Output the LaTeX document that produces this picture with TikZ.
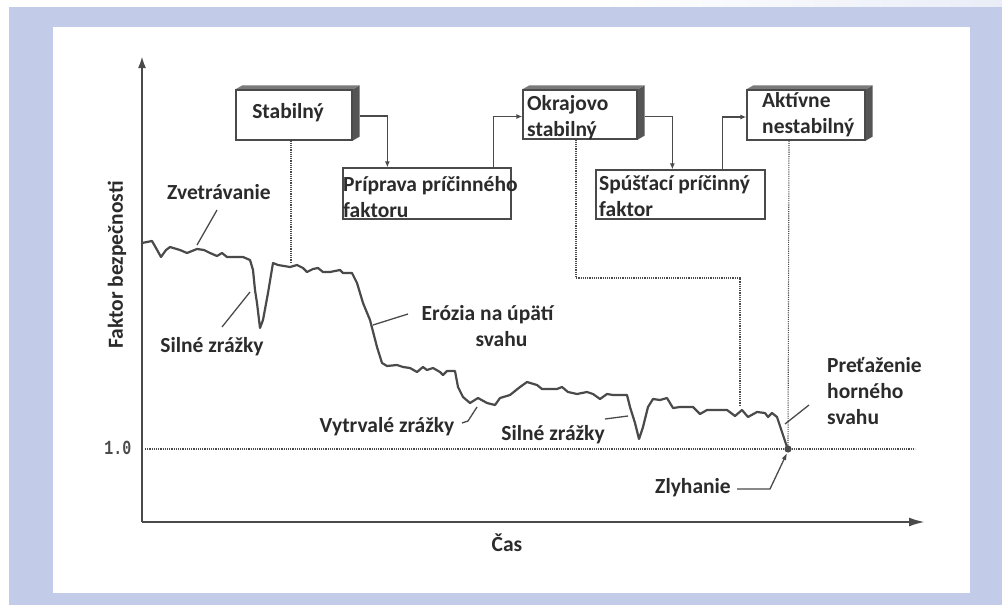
\documentclass[tikz,border=0pt]{standalone}
\usepackage{fontspec}
\setmainfont{Carlito}
\newfontfamily\monof{Liberation Mono}
\usetikzlibrary{arrows.meta,calc}
\definecolor{bgblue}{HTML}{C2CCE8}
\definecolor{ln}{HTML}{4A4A4A}
\definecolor{txt}{HTML}{2B2B2B}
\definecolor{sidec}{HTML}{555555}
\definecolor{topc}{HTML}{7A7A7A}
\begin{document}
\begin{tikzpicture}[x=1pt,y=-1pt,
  lbl/.style={font=\bfseries\fontsize{21.5}{26}\selectfont, text=txt, inner sep=0pt},
  boxn/.style={draw=ln, line width=1.3pt, fill=white, rectangle, inner sep=0pt},
  conn/.style={draw=ln, line width=1.3pt, -{Latex[length=6pt,width=5pt]}},
  dots/.style={draw=ln, line width=1.1pt, dash pattern=on 1.1pt off 1.1pt},
  lead/.style={draw=ln, line width=1.3pt},
  curvest/.style={draw=ln, line width=2.2pt, line join=round, line cap=round},
  axis/.style={draw=ln, line width=2.2pt}]
\useasboundingbox (0,0) rectangle (1002,605);
\fill[white] (0,0) rectangle (1002,605);
\shade[left color=white, right color=bgblue!35] (600,0) rectangle (1002,7);
\fill[bgblue] (9,7) rectangle (1002,605);
\fill[white] (53,27) rectangle (970,593);

% axes
\coordinate (O) at (142,522);
\coordinate (ytip) at (142,56);
\coordinate (xtip) at (925,522);
\draw[axis, -{Latex[length=12pt,width=8pt]}] (O) -- (ytip);
\draw[axis, -{Latex[length=16pt,width=9pt]}] (O) -- (xtip);
\node[lbl, rotate=90] (lyax) at (117,265) {Faktor bezpečnosti};
\node[lbl] (lcas) at (507,543) {Čas};
\node[font=\monof\bfseries\fontsize{20}{20}\selectfont, text=txt!85, inner sep=0pt] (lone) at (118,448) {\scalebox{0.75}[1]{1.0}};
\coordinate (one0) at (145,449);
\coordinate (one1) at (915,449);
\draw[dots] (one0) -- (one1);

% boxes
\node[boxn, minimum width=116pt, minimum height=50pt] (stab) at (294,115) {};
\node[boxn, minimum width=114pt, minimum height=49pt] (okr) at (580,114.5) {};
\node[boxn, minimum width=118pt, minimum height=50pt] (akt) at (806,115) {};
\node[boxn, minimum width=168pt, minimum height=51pt] (prip) at (427,193.5) {};
\node[boxn, minimum width=169pt, minimum height=49pt] (spus) at (680.5,194.5) {};
\foreach \b in {stab,okr,akt}{
  \fill[sidec] (\b.north east) -- ++(7,-4) -- ([shift={(7,-4)}]\b.south east) -- (\b.south east) -- cycle;
  \fill[topc] (\b.north west) -- ++(7,-4) -- ([shift={(7,-4)}]\b.north east) -- (\b.north east) -- cycle;
  \draw[ln, line width=1.3pt] (\b.north west) rectangle (\b.south east);
}
\node[lbl] (tstab) at (288,113) {Stabilný};
\node[lbl, anchor=west, align=left] (tokr) at (527,118) {Okrajovo\\stabilný};
\node[lbl, anchor=west, align=left] (takt) at (762,115) {Aktívne\\nestabilný};
\node[lbl, anchor=west, align=left] (tprip) at (343,197) {Príprava príčinného\\faktoru};
\node[lbl, anchor=west, align=left] (tspus) at (599,196) {Spúšťací príčinný\\faktor};

% connectors
\draw[conn] ([xshift=7pt,yshift=-1pt]stab.east) -| ([xshift=45pt]prip.north west);
\draw[conn] ([xshift=-18pt]prip.north east) |- ([yshift=-2pt]okr.west);
\draw[conn] ([xshift=7pt,yshift=-2pt]okr.east) -| ([xshift=77pt]spus.north west);
\draw[conn] ([xshift=127pt]spus.north west) |- ([yshift=-2pt]akt.west);

% curve
\draw[curvest] (142,243) -- (152,241) -- (156,248) -- (161,257) -- (166,250) -- (170,247) -- (180,250) -- (187,253) -- (197,249) -- (204,250) -- (210,253) -- (217,256) -- (222,253) -- (227,257) -- (243,257) -- (250,260) -- (253,270) -- (255,290) -- (257,303) -- (260,328) -- (263,320) -- (268,293) -- (273,263) -- (278,265) -- (290,267) -- (297,265) -- (303,268) -- (307,272) -- (313,269) -- (318,268) -- (323,272) -- (330,272) -- (340,270) -- (343,273) -- (352,273) -- (357,283) -- (363,303) -- (370,320) -- (377,347) -- (382,363) -- (387,366) -- (397,365) -- (403,367) -- (410,368) -- (417,372) -- (423,367) -- (427,370) -- (433,368) -- (440,372) -- (443,375) -- (447,371) -- (455,371) -- (458,387) -- (463,397) -- (470,403) -- (478,398) -- (487,403) -- (495,405) -- (500,398) -- (510,395) -- (520,387) -- (527,382) -- (537,385) -- (542,389) -- (557,389) -- (562,387) -- (568,392) -- (577,394) -- (587,392) -- (593,394) -- (600,399) -- (607,394) -- (613,395) -- (627,395) -- (630,407) -- (635,423) -- (639,439) -- (643,427) -- (648,407) -- (653,399) -- (660,400) -- (667,398) -- (673,408) -- (680,407) -- (693,407) -- (700,414) -- (707,410) -- (717,410) -- (727,410) -- (735,416) -- (742,410) -- (748,417) -- (757,412) -- (765,413) -- (768,417) -- (772,413) -- (777,417) -- (782,432) -- (787,447) -- (788,449);

% failure point
\coordinate (fail) at (788,449);
\fill[ln] (fail) circle (3.6pt);

% dotted drops
\coordinate (d1) at (291,263);
\coordinate (d2a) at (576,278);
\coordinate (d2b) at (740,278);
\coordinate (d2c) at (740,405);
\draw[dots] ([xshift=-3pt]stab.south) -- (d1);
\draw[dots] ([xshift=-4pt]okr.south) -- (d2a) -- (d2b) -- (d2c);
\draw[dots] ([xshift=-17pt]akt.south) -- (fail);

% labels and leaders
\node[lbl] (lzv) at (219,192) {Zvetrávanie};
\coordinate (zv0) at (217,210); \coordinate (zv1) at (197,245);
\draw[lead] (zv0) -- (zv1);
\node[lbl] (lsz1) at (212,347) {Silné zrážky};
\coordinate (sa0) at (222,327); \coordinate (sa1) at (250,292);
\draw[lead] (sa0) -- (sa1);
\node[lbl, align=center] (ler) at (487.5,326.5) {Erózia na úpätí\\\hspace*{28pt}svahu};
\coordinate (er0) at (408,314); \coordinate (er1) at (373,325);
\draw[lead] (er0) -- (er1);
\node[lbl] (lvy) at (387,427) {Vytrvalé zrážky};
\coordinate (vy0) at (462,423); \coordinate (vy1) at (468,421); \coordinate (vy2) at (477,407);
\draw[lead] (vy0) -- (vy1) -- (vy2);
\node[lbl] (lsz2) at (553,435) {Silné zrážky};
\coordinate (sb0) at (605,419); \coordinate (sb1) at (628,416);
\draw[lead] (sb0) -- (sb1);
\node[lbl, anchor=west, align=left] (lpr) at (827,391) {Preťaženie\\horného\\svahu};
\coordinate (pr0) at (809,405); \coordinate (pr1) at (785,424);
\draw[lead] (pr0) -- (pr1);
\node[lbl] (lzl) at (693,488) {Zlyhanie};
\coordinate (zl0) at (737,489); \coordinate (zl1) at (770,489);
\draw[lead, -{Latex[length=7pt,width=5pt]}] (zl0) -- (zl1) -- ([shift={(-1,4)}]fail);
\end{tikzpicture}
\end{document}
